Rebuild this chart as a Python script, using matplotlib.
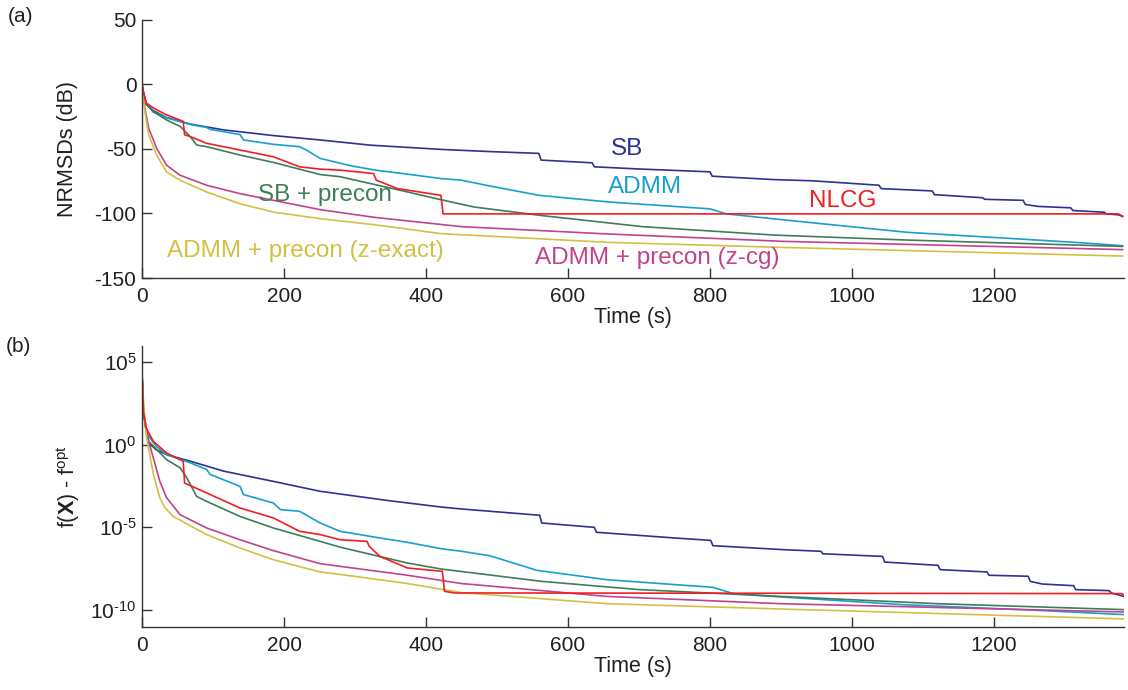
import numpy as np
import matplotlib
matplotlib.use("Agg")
import matplotlib.pyplot as plt
from matplotlib.ticker import FixedLocator, FuncFormatter, NullLocator

plt.rcParams['font.family'] = ['Liberation Sans', 'DejaVu Sans']
plt.rcParams['mathtext.fontset'] = 'custom'
plt.rcParams['mathtext.rm'] = 'Liberation Sans'
plt.rcParams['mathtext.it'] = 'Liberation Sans:italic'
plt.rcParams['mathtext.bf'] = 'Liberation Sans:bold'
plt.rcParams['axes.unicode_minus'] = False

# colours
c_sb = '#2e3192'
c_admm = '#17a0cf'
c_nlcg = '#f01d24'
c_sbp = '#3f7c5a'
c_zcg = '#c2428c'
c_zex = '#d2c043'

# ---- panel (a): NRMSD (dB) vs time (s)
sb_t = [0, 2, 6, 16, 34, 68, 115, 185, 251, 321, 421, 490, 559, 562, 634, 637, 700, 800, 803, 889,
        946, 1038, 1041, 1113, 1116, 1184, 1187, 1241, 1244, 1262, 1308, 1311, 1355, 1358, 1375, 1381]
sb_db = [0, -6, -15.6, -20.3, -25.5, -30.7, -35.2, -39.6, -43, -47, -50.3, -52, -53.4, -58.6, -60.7,
         -63.8, -65.5, -67.7, -71.1, -73.7, -74.7, -78.1, -80.7, -82.5, -85.4, -87.8, -89, -89.8,
         -93, -94.5, -95.6, -97.7, -99, -100.3, -101, -102.3]

admm_t = [0, 2, 6, 16, 34, 68, 91, 96, 138, 143, 185, 222, 232, 251, 294, 330, 374, 421, 450, 492,
          559, 658, 800, 823, 903, 984, 1078, 1197, 1315, 1381]
admm_db = [0, -6, -15, -21.4, -25.7, -31.0, -33.3, -34.8, -38.8, -43, -46.4, -48.2, -51, -57.3, -63,
           -66.5, -69.5, -72.9, -74.2, -78.9, -85.9, -91.1, -96.4, -100.3, -104.9, -109.4, -114.6,
           -118.5, -122.4, -125]

nlcg_t = [0, 2, 6, 16, 34, 58, 60, 68, 91, 138, 185, 222, 251, 279, 326, 330, 360, 421, 424, 1375, 1381]
nlcg_db = [0, -6, -14.3, -18.2, -23.4, -28.6, -39, -40.4, -45.6, -50.8, -56, -63.8, -65.6, -66.4, -69,
           -74.2, -80.7, -85.9, -100.3, -100.3, -102]

sbp_t = [0, 2, 6, 16, 34, 54, 68, 77, 91, 138, 185, 251, 279, 374, 421, 468, 563, 705, 889, 1078, 1381]
sbp_db = [0, -6, -15, -21, -27.3, -32.6, -40.4, -46.9, -48.2, -54.7, -60.4, -69.8, -71.5, -83.3, -89.3,
          -95, -101.6, -110.2, -116.7, -120.6, -125.5]

zcg_t = [0, 2, 4, 9.4, 20.7, 34.5, 53.5, 91, 138, 185, 251, 326, 450, 658, 903, 1381]
zcg_db = [0, -8, -18.2, -33.9, -49.5, -62.5, -70.3, -78.1, -84.6, -89.8, -97, -102.9, -110.2, -115.9,
          -121.6, -128]

zex_t = [0, 2, 4, 9.4, 20.7, 34.5, 53.5, 91, 138, 185, 251, 326, 421, 658, 903, 1381]
zex_db = [0, -10, -20.8, -39, -54.7, -67.7, -74.2, -83.3, -92.4, -98.9, -104, -108.6, -115.6, -122.4,
          -126.3, -133]

# ---- panel (b): log10(f(X) - f_opt) vs time (s)
sb_b_t = [0, 2, 6, 9.4, 20, 34.5, 68, 115, 185, 251, 350, 421, 450, 560, 563, 637, 640, 752, 801, 804,
          903, 956, 959, 1043, 1046, 1121, 1124, 1190, 1193, 1248, 1251, 1268, 1312, 1315, 1362, 1365, 1383]
sb_b_lg = [4.35, 2.0, 0.8, 0.1, -0.3, -0.6, -1.0, -1.6, -2.22, -2.82, -3.4, -3.77, -3.89, -4.27, -4.74,
           -5.0, -5.3, -5.65, -5.79, -6.11, -6.35, -6.45, -6.6, -6.76, -7.1, -7.3, -7.56, -7.7, -7.9,
           -7.96, -8.27, -8.43, -8.53, -8.77, -8.83, -8.97, -9.18]

admm_b_t = [0, 2, 6, 9.4, 20, 34.5, 68, 91, 96, 138, 143, 185, 195, 222, 251, 279, 326, 374, 421, 450,
            490, 556, 655, 804, 833, 899, 1072, 1260, 1383]
admm_b_lg = [4.35, 2.0, 0.8, 0.5, -0.1, -0.6, -1.1, -1.5, -1.8, -2.52, -3.02, -3.53, -3.93, -4.03,
             -4.74, -5.24, -5.58, -5.91, -6.29, -6.45, -6.72, -7.6, -8.17, -8.63, -9.01, -9.21,
             -9.68, -10.02, -10.28]

nlcg_b_t = [0, 2, 6, 16, 34.5, 58, 60, 91, 138, 185, 222, 251, 279, 317, 320, 335, 374, 423, 426, 440,
            1380, 1383]
nlcg_b_lg = [4.35, 2.0, 1.0, 0.2, -0.5, -1.0, -2.32, -2.92, -3.83, -4.43, -5.24, -5.44, -5.75, -5.85,
             -6.15, -6.76, -7.46, -7.66, -8.87, -8.97, -9.01, -9.1]

sbp_b_t = [0, 2, 9.4, 34.5, 54, 63, 77, 91, 138, 185, 251, 279, 374, 421, 563, 701, 899, 1120, 1383]
sbp_b_lg = [4.35, 2.0, 0.2, -0.9, -1.41, -2.0, -3.13, -3.43, -4.34, -5.04, -5.85, -6.2, -7.16, -7.52,
            -8.27, -8.77, -9.18, -9.62, -9.98]

zcg_b_t = [0, 2, 6.6, 16, 25, 34.5, 53.5, 91, 138, 185, 251, 374, 450, 655, 899, 1383]
zcg_b_lg = [4.35, 2.0, 0.6, -0.8, -2.2, -3.2, -4.23, -5.04, -5.75, -6.41, -7.2, -7.9, -8.4, -9.18,
            -9.62, -10.12]

zex_b_t = [0, 2.8, 6.6, 16, 25, 32, 44, 91, 138, 185, 251, 279, 374, 450, 655, 899, 1383]
zex_b_lg = [4.0, 2.2, 0.4, -1.8, -3.2, -3.8, -4.34, -5.44, -6.25, -6.96, -7.7, -7.85, -8.4, -8.95,
            -9.62, -9.94, -10.54]

W, H = 1128, 690
fig = plt.figure(figsize=(W / 100, H / 100), dpi=100)
ax1 = fig.add_axes([142 / W, 1 - 278 / H, 982 / W, 258 / H])
ax2 = fig.add_axes([142 / W, 1 - 627 / H, 982 / W, 281 / H])

lw = 1.2
ax1.plot(sb_t, sb_db, color=c_sb, lw=lw)
ax1.plot(admm_t, admm_db, color=c_admm, lw=lw)
ax1.plot(sbp_t, sbp_db, color=c_sbp, lw=lw)
ax1.plot(zcg_t, zcg_db, color=c_zcg, lw=lw)
ax1.plot(zex_t, zex_db, color=c_zex, lw=lw)
ax1.plot(nlcg_t, nlcg_db, color=c_nlcg, lw=lw)

ax2.plot(sb_b_t, 10.0 ** np.array(sb_b_lg), color=c_sb, lw=lw)
ax2.plot(admm_b_t, 10.0 ** np.array(admm_b_lg), color=c_admm, lw=lw)
ax2.plot(sbp_b_t, 10.0 ** np.array(sbp_b_lg), color=c_sbp, lw=lw)
ax2.plot(zcg_b_t, 10.0 ** np.array(zcg_b_lg), color=c_zcg, lw=lw)
ax2.plot(zex_b_t, 10.0 ** np.array(zex_b_lg), color=c_zex, lw=lw)
ax2.plot(nlcg_b_t, 10.0 ** np.array(nlcg_b_lg), color=c_nlcg, lw=lw)

# curve labels
fs_lab = 17.5
ax1.text(683, -50, 'SB', color=c_sb, fontsize=fs_lab, ha='center', va='center')
ax1.text(708, -79.7, 'ADMM', color=c_admm, fontsize=fs_lab, ha='center', va='center')
ax1.text(987, -90.6, 'NLCG', color=c_nlcg, fontsize=fs_lab, ha='center', va='center')
ax1.text(258, -86, 'SB + precon', color=c_sbp, fontsize=fs_lab, ha='center', va='center')
ax1.text(230, -129, 'ADMM + precon (z-exact)', color=c_zex, fontsize=fs_lab, ha='center', va='center')
ax1.text(725, -134.4, 'ADMM + precon (z-cg)', color=c_zcg, fontsize=fs_lab, ha='center', va='center')

for ax in (ax1, ax2):
    ax.set_xlim(0, 1383)
    ax.spines['top'].set_visible(False)
    ax.spines['right'].set_visible(False)
    for s in ('left', 'bottom'):
        ax.spines[s].set_color('#333333')
        ax.spines[s].set_linewidth(1.0)
    ax.set_xticks([0, 200, 400, 600, 800, 1000, 1200])
    ax.tick_params(direction='in', length=7, width=1.0, color='#333333', labelsize=15,
                   labelcolor='#231f20')
    ax.tick_params(axis='x', pad=6.5)
    ax.tick_params(axis='y', pad=4)
    ax.set_xlabel('Time (s)', fontsize=15.5, color='#231f20', labelpad=1)

ax1.set_ylim(-150, 50)
ax1.set_yticks([-150, -100, -50, 0, 50])
ax1.set_ylabel('NRMSDs (dB)', fontsize=15.5, color='#231f20')
ax1.yaxis.set_label_coords(-0.065, 0.5)


def log_label(v, pos):
    e = int(round(np.log10(v)))
    if e < 0:
        return r'$10^{\text{-}%d}$' % (-e)
    return r'$10^{%d}$' % e


ax2.set_yscale('log')
ax2.set_ylim(10 ** -11.03, 10 ** 5.97)
ax2.yaxis.set_major_locator(FixedLocator([1e-10, 1e-5, 1e0, 1e5]))
ax2.yaxis.set_minor_locator(NullLocator())
ax2.yaxis.set_major_formatter(FuncFormatter(log_label))
ax2.set_ylabel(r'f($\mathbf{X}$) - f$^{\mathrm{opt}}$', fontsize=15.5, color='#231f20')
ax2.yaxis.set_label_coords(-0.061, 0.5)

fig.text(8 / W, 1 - 17 / H, '(a)', fontsize=15, color='#231f20', va='center', ha='left')
fig.text(6 / W, 1 - 347 / H, '(b)', fontsize=15, color='#231f20', va='center', ha='left')

fig.savefig('out.png', dpi=100)
